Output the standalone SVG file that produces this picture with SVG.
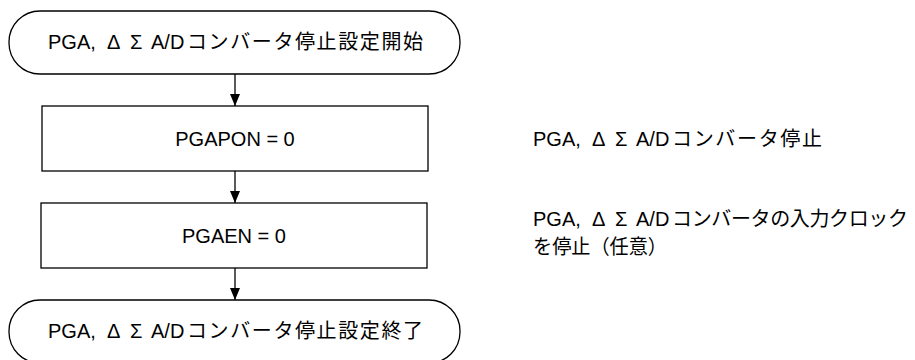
<svg xmlns="http://www.w3.org/2000/svg" width="915" height="360" viewBox="0 0 915 360">
<defs>
<style>
.shape{fill:#fff;stroke:#000;stroke-width:1.3}
.t{font-family:"Liberation Sans","Noto Sans CJK JP",sans-serif;font-size:20px;fill:#000}
.c{text-anchor:middle}
.j{font-family:"Noto Sans CJK JP",sans-serif;font-size:20px}
.conn{stroke:#000;stroke-width:1.3;fill:none}
</style>
<marker id="ah" markerWidth="12" markerHeight="10" refX="12" refY="5" orient="auto" markerUnits="userSpaceOnUse" viewBox="0 0 12 10">
<path d="M0,0 L12,5 L0,10 Z" fill="#000"/>
</marker>
</defs>
<rect width="915" height="360" fill="#fff"/>
<g id="connectors">
<line class="conn" x1="235" y1="74" x2="235" y2="106" marker-end="url(#ah)"/>
<line class="conn" x1="235" y1="171" x2="235" y2="203" marker-end="url(#ah)"/>
<line class="conn" x1="235" y1="268" x2="235" y2="300" marker-end="url(#ah)"/>
</g>
<g id="start">
<rect class="shape" x="9" y="11" width="451" height="63" rx="31" ry="31"/>
<text class="t" y="49"><tspan x="48">PGA,</tspan><tspan x="107">Δ</tspan><tspan x="130">Σ</tspan><tspan x="151">A/D</tspan><tspan class="j" x="187" textLength="236" lengthAdjust="spacing">コンバータ停止設定開始</tspan></text>
</g>
<g id="step1">
<rect class="shape" x="42" y="106" width="386" height="65"/>
<text class="t c" x="235" y="146">PGAPON = 0</text>
</g>
<g id="step2">
<rect class="shape" x="41" y="203" width="386" height="65"/>
<text class="t c" x="234" y="243">PGAEN = 0</text>
</g>
<g id="end">
<rect class="shape" x="9" y="300" width="451" height="63" rx="31" ry="31"/>
<text class="t" y="338"><tspan x="48">PGA,</tspan><tspan x="107">Δ</tspan><tspan x="130">Σ</tspan><tspan x="151">A/D</tspan><tspan class="j" x="187" textLength="236" lengthAdjust="spacing">コンバータ停止設定終了</tspan></text>
</g>
<g id="note1">
<text class="t" y="146"><tspan x="533">PGA,</tspan><tspan x="592">Δ</tspan><tspan x="615">Σ</tspan><tspan x="636">A/D</tspan><tspan class="j" x="672" textLength="150" lengthAdjust="spacing">コンバータ停止</tspan></text>
</g>
<g id="note2">
<text class="t" y="226"><tspan x="533">PGA,</tspan><tspan x="592">Δ</tspan><tspan x="615">Σ</tspan><tspan x="636">A/D</tspan><tspan class="j" x="672" textLength="236" lengthAdjust="spacing">コンバータの入力クロック</tspan><tspan class="j" x="533" y="254" textLength="134" lengthAdjust="spacingAndGlyphs">を停止（任意）</tspan></text>
</g>
</svg>
